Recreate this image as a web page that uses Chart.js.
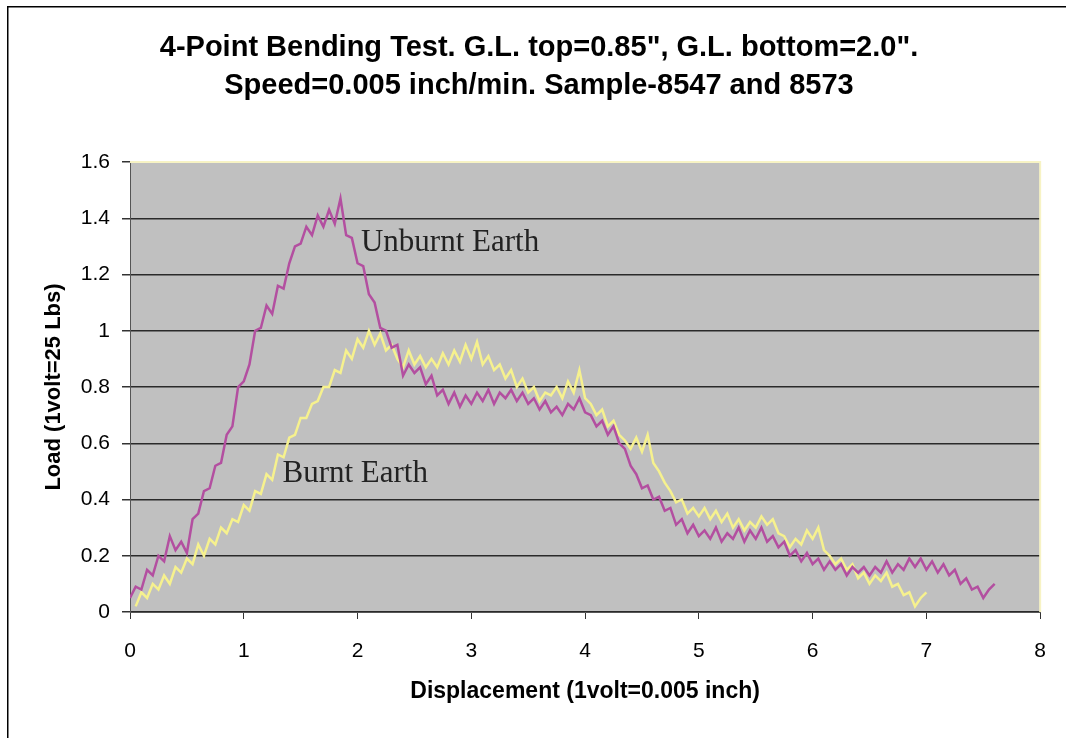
<!DOCTYPE html>
<html>
<head>
<meta charset="utf-8">
<script src="https://cdn.jsdelivr.net/npm/chart.js@4.4.1/dist/chart.umd.min.js"></script>
<style>
  html, body { margin: 0; padding: 0; background: #fff; }
  #wrap { position: relative; width: 1066px; height: 738px; }
</style>
</head>
<body>
<div id="wrap"><canvas id="chart" width="1066" height="738"></canvas></div>
<script>
// displacement sampling (volts) for each recorded series
const unburntStart = 0, unburntStep = 0.05
const burntStart = 0.05, burntStep = 0.05

// load readings (volts) - Unburnt Earth, sample 8547
const unburntLoad = [
  0.05, 0.09, 0.08, 0.15, 0.13, 0.2, 0.18, 0.27, 0.22, 0.25,
  0.21, 0.33, 0.35, 0.43, 0.44, 0.52, 0.53, 0.63, 0.66, 0.8,
  0.82, 0.88, 1.0, 1.01, 1.09, 1.06, 1.16, 1.15, 1.24, 1.3,
  1.31, 1.37, 1.34, 1.41, 1.37, 1.43, 1.38, 1.47, 1.34, 1.33,
  1.24, 1.23, 1.13, 1.1, 1.01, 1.0, 0.94, 0.95, 0.84, 0.88,
  0.85, 0.87, 0.81, 0.84, 0.77, 0.79, 0.74, 0.78, 0.73, 0.77,
  0.74, 0.78, 0.75, 0.79, 0.74, 0.78, 0.76, 0.79, 0.75, 0.78,
  0.74, 0.76, 0.72, 0.75, 0.71, 0.73, 0.7, 0.74, 0.72, 0.76,
  0.71, 0.7, 0.66, 0.68, 0.63, 0.66, 0.6, 0.58, 0.52, 0.49,
  0.44, 0.45, 0.4, 0.41, 0.36, 0.37, 0.31, 0.33, 0.28, 0.31,
  0.27, 0.29, 0.26, 0.3, 0.25, 0.28, 0.26, 0.3, 0.25, 0.29,
  0.26, 0.3, 0.25, 0.27, 0.23, 0.25, 0.2, 0.22, 0.18, 0.21,
  0.17, 0.19, 0.15, 0.18, 0.15, 0.17, 0.13, 0.16, 0.14, 0.16,
  0.13, 0.16, 0.14, 0.18, 0.14, 0.17, 0.15, 0.19, 0.16, 0.19,
  0.15, 0.18, 0.14, 0.17, 0.13, 0.15, 0.1, 0.12, 0.08, 0.09,
  0.05, 0.08, 0.1
]

// load readings (volts) - Burnt Earth, sample 8573
const burntLoad = [
  0.02, 0.07, 0.05, 0.1, 0.08, 0.13, 0.1, 0.16, 0.14, 0.19,
  0.17, 0.24, 0.2, 0.26, 0.24, 0.3, 0.28, 0.33, 0.32, 0.38,
  0.36, 0.43, 0.42, 0.49, 0.47, 0.56, 0.55, 0.62, 0.63, 0.69,
  0.69, 0.74, 0.75, 0.8, 0.8, 0.86, 0.85, 0.93, 0.9, 0.97,
  0.94, 1.0, 0.95, 0.99, 0.93, 0.95, 0.9, 0.87, 0.93, 0.88,
  0.91, 0.87, 0.9, 0.87, 0.92, 0.88, 0.93, 0.89, 0.95, 0.9,
  0.96, 0.88, 0.91, 0.86, 0.88, 0.83, 0.86, 0.8, 0.83, 0.78,
  0.8, 0.75, 0.78, 0.77, 0.8, 0.76, 0.82, 0.78, 0.86, 0.76,
  0.74, 0.7, 0.72, 0.66, 0.68, 0.63, 0.61, 0.58, 0.62, 0.57,
  0.63, 0.53, 0.5, 0.46, 0.43, 0.39, 0.4, 0.35, 0.37, 0.34,
  0.37, 0.33, 0.36, 0.32, 0.35, 0.3, 0.33, 0.29, 0.32, 0.3,
  0.34, 0.31, 0.33, 0.28, 0.27, 0.23, 0.26, 0.24, 0.29, 0.26,
  0.3, 0.22, 0.2, 0.17, 0.19, 0.15, 0.17, 0.12, 0.14, 0.1,
  0.13, 0.11, 0.14, 0.09, 0.1, 0.06, 0.07, 0.02, 0.05, 0.07
]

const titleLines = [
  '4-Point Bending Test. G.L. top=0.85", G.L. bottom=2.0".',
  'Speed=0.005 inch/min. Sample-8547 and 8573'
]
const xTitle = 'Displacement (1volt=0.005 inch)'
const yTitle = 'Load (1volt=25 Lbs)'

// in-plot labels: [text, x, y(baseline)] in data units
const labels = [
  ['Unburnt Earth', 2.03, 1.285],
  ['Burnt Earth', 1.34, 0.463]
]

function toPoints(start, step, ys) {
  return ys.map((y, i) => ({ x: +(start + i * step).toFixed(3), y }))
}

const plotDecor = {
  id: 'plotDecor',
  beforeDraw(chart) {
    const { ctx, chartArea: a } = chart
    ctx.save()
    // outer frame (left and top only are visible)
    ctx.fillStyle = '#000'
    ctx.fillRect(7, 6, 1.5, 732)
    ctx.fillRect(7, 6, 1059, 1.5)
    // plot background
    ctx.fillStyle = '#c0c0c0'
    ctx.fillRect(a.left, a.top, a.right - a.left, a.bottom - a.top)
    ctx.restore()
  },
  beforeDatasetsDraw(chart) {
    const { ctx, chartArea: a } = chart
    ctx.save()
    ctx.strokeStyle = '#f7f3c4'
    ctx.lineWidth = 2
    ctx.beginPath()
    ctx.moveTo(a.left, a.top)
    ctx.lineTo(a.right, a.top)
    ctx.lineTo(a.right, a.bottom)
    ctx.stroke()
    ctx.restore()
  },
  afterDatasetsDraw(chart) {
    const { ctx, scales: { x, y } } = chart
    ctx.save()
    ctx.font = '31px "Liberation Serif", "Times New Roman", serif'
    ctx.fillStyle = '#222'
    ctx.textBaseline = 'alphabetic'
    labels.forEach(([t, lx, ly]) => {
      ctx.fillText(t, x.getPixelForValue(lx), y.getPixelForValue(ly))
    })
    ctx.restore()
  }
}

const config = {
  type: 'scatter',
  data: {
    datasets: [
      {
        label: 'Unburnt Earth',
        data: toPoints(unburntStart, unburntStep, unburntLoad),
        borderColor: '#b34fa0',
        borderWidth: 2.5,
        showLine: true,
        pointRadius: 0,
        tension: 0
      },
      {
        label: 'Burnt Earth',
        data: toPoints(burntStart, burntStep, burntLoad),
        borderColor: '#f6f18e',
        borderWidth: 2.5,
        showLine: true,
        pointRadius: 0,
        tension: 0
      }
    ]
  },
  options: {
    responsive: false,
    animation: false,
    layout: { padding: { left: 35, right: 23, top: 0, bottom: 0 } },
    plugins: {
      legend: { display: false },
      tooltip: { enabled: false },
      title: {
        display: true,
        text: titleLines,
        color: '#000',
        font: { family: '"Liberation Sans", Arial, sans-serif', size: 29, weight: 'bold', lineHeight: '38px' },
        padding: { top: 29, bottom: 57 }
      }
    },
    scales: {
      x: {
        type: 'linear',
        min: 0,
        max: 8,
        afterFit(scale) { scale.height = 126 },
        ticks: {
          stepSize: 1,
          color: '#000',
          padding: 20,
          font: { family: '"Liberation Sans", Arial, sans-serif', size: 21 }
        },
        grid: { drawOnChartArea: false, drawTicks: true, tickLength: 7, color: '#333', tickColor: '#333' },
        border: { color: '#555', width: 1 },
        title: {
          display: true,
          text: xTitle,
          color: '#000',
          font: { family: '"Liberation Sans", Arial, sans-serif', size: 23, weight: 'bold' },
          padding: { top: 0, bottom: 33 }
        }
      },
      y: {
        min: 0,
        max: 1.6,
        afterFit(scale) { scale.width = 95 },
        ticks: {
          stepSize: 0.2,
          color: '#000',
          padding: 12,
          font: { family: '"Liberation Sans", Arial, sans-serif', size: 21 },
          callback: (v) => String(Number(v.toFixed(1)))
        },
        grid: {
          drawTicks: true,
          tickLength: 8,
          lineWidth: 1.5,
          color: (c) => (c.tick && Math.abs(c.tick.value - 1.6) < 1e-6) ? 'rgba(0,0,0,0)' : '#2a2a2a',
          tickColor: '#333'
        },
        border: { color: '#555', width: 1 },
        title: {
          display: true,
          text: yTitle,
          color: '#000',
          font: { family: '"Liberation Sans", Arial, sans-serif', size: 22, weight: 'bold' },
          padding: { top: 6, bottom: 0 }
        }
      }
    }
  },
  plugins: [plotDecor]
}

new Chart(document.getElementById('chart'), config)
</script>
</body>
</html>
